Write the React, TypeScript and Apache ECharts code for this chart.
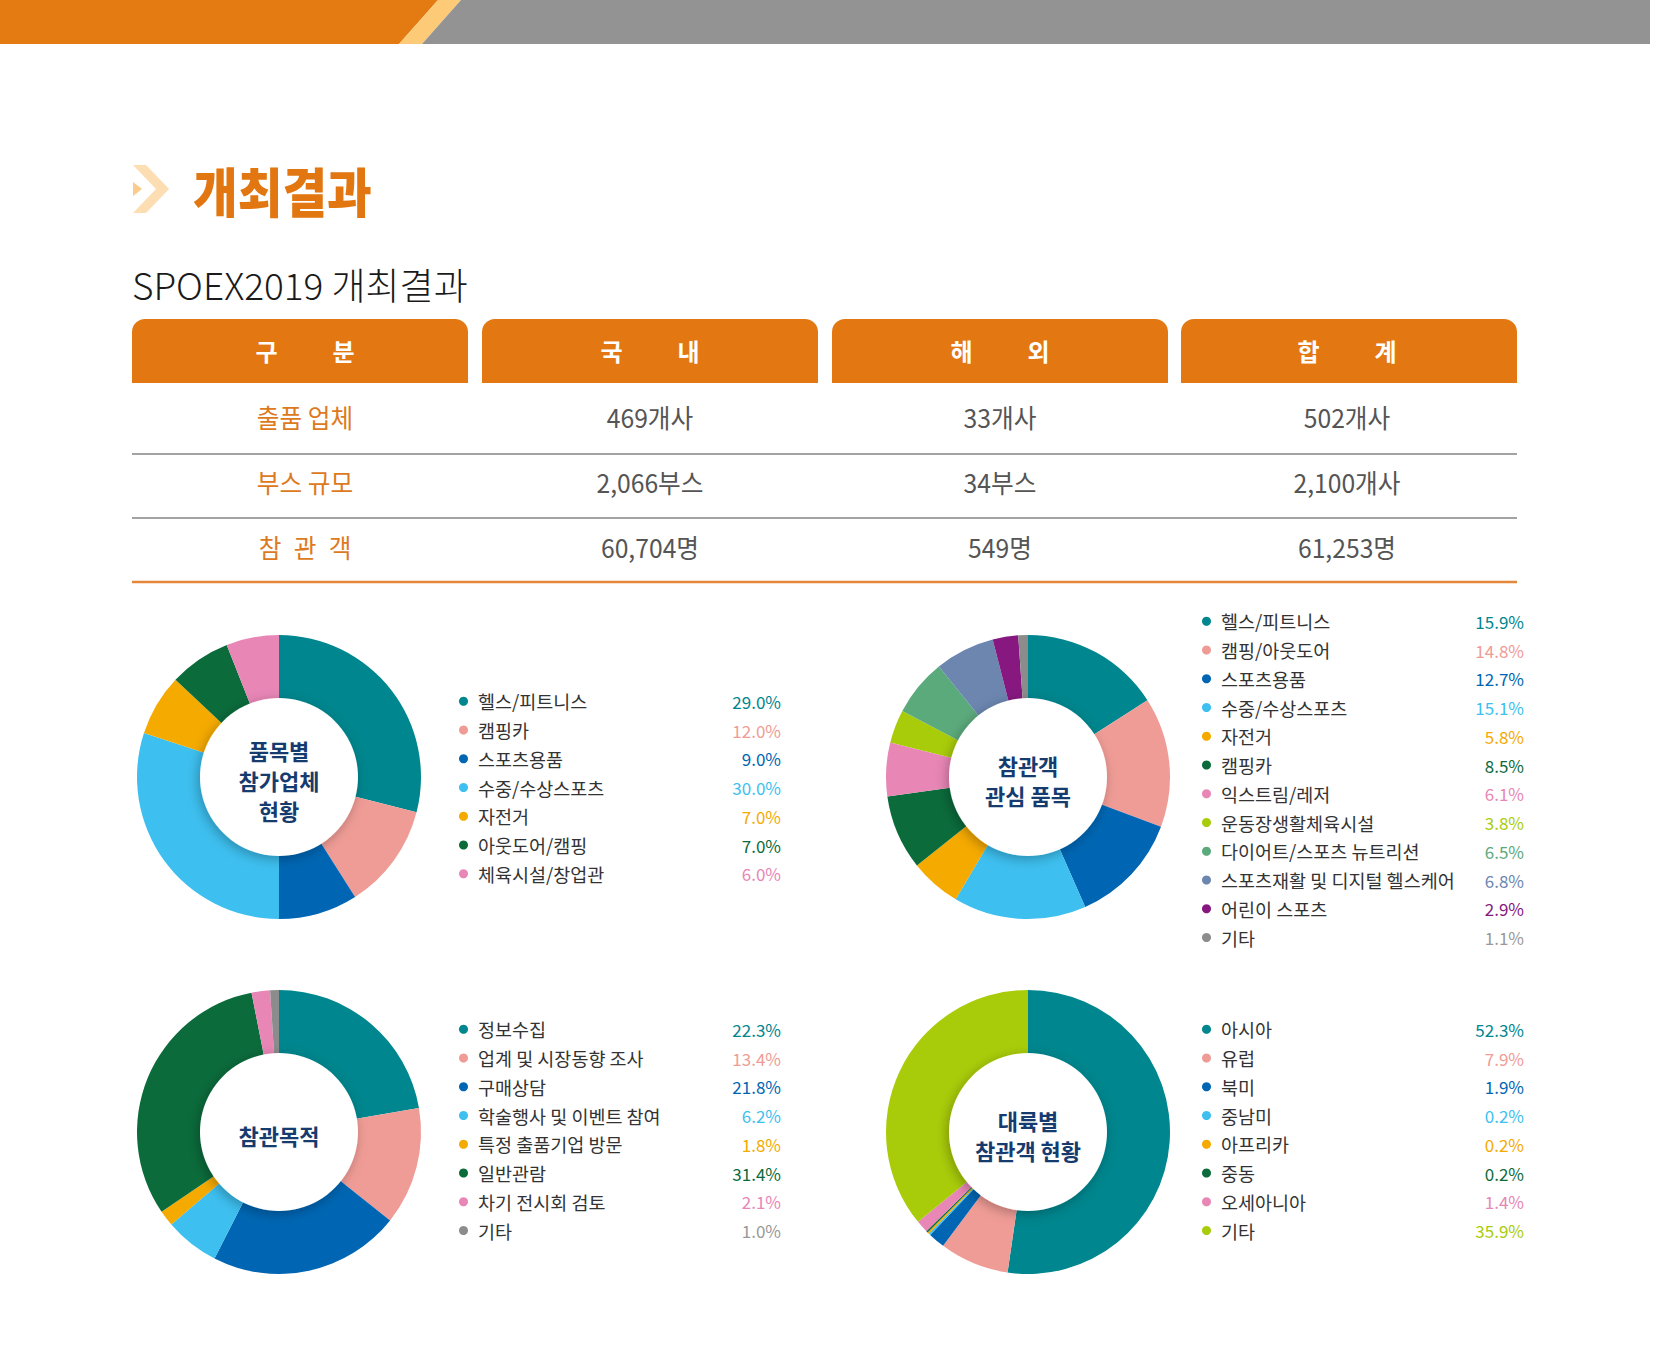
import React, { useEffect, useRef } from "react";
import * as echarts from "echarts";

const PAGE_W = 1654;
const PAGE_H = 1349;
const FONT = '"Noto Sans CJK KR", "Noto Sans", sans-serif';

// ---------- text / data ----------
const headingText = "개최결과";
const subtitleText = "SPOEX2019 개최결과";

const tableHeaders = ["구분", "국내", "해외", "합계"];
const rowLabels = ["출품 업체", "부스 규모", "참 관 객"];
const domesticValues = ["469개사", "2,066부스", "60,704명"];
const overseasValues = ["33개사", "34부스", "549명"];
const totalValues = ["502개사", "2,100개사", "61,253명"];

const chart1Title = "품목별\n참가업체\n현황";
const chart1Names = ["헬스/피트니스", "캠핑카", "스포츠용품", "수중/수상스포츠", "자전거", "아웃도어/캠핑", "체육시설/창업관"];
const chart1Values = [29.0, 12.0, 9.0, 30.0, 7.0, 7.0, 6.0];

const chart2Title = "참관객\n관심 품목";
const chart2Names = ["헬스/피트니스", "캠핑/아웃도어", "스포츠용품", "수중/수상스포츠", "자전거", "캠핑카", "익스트림/레저", "운동장생활체육시설", "다이어트/스포츠 뉴트리션", "스포츠재활 및 디지털 헬스케어", "어린이 스포츠", "기타"];
const chart2Values = [15.9, 14.8, 12.7, 15.1, 5.8, 8.5, 6.1, 3.8, 6.5, 6.8, 2.9, 1.1];

const chart3Title = "참관목적";
const chart3Names = ["정보수집", "업계 및 시장동향 조사", "구매상담", "학술행사 및 이벤트 참여", "특정 출품기업 방문", "일반관람", "차기 전시회 검토", "기타"];
const chart3Values = [22.3, 13.4, 21.8, 6.2, 1.8, 31.4, 2.1, 1.0];

const chart4Title = "대륙별\n참관객 현황";
const chart4Names = ["아시아", "유럽", "북미", "중남미", "아프리카", "중동", "오세아니아", "기타"];
const chart4Values = [52.3, 7.9, 1.9, 0.2, 0.2, 0.2, 1.4, 35.9];

// ---------- colours ----------
const TEAL = "#00868E";
const SALMON = "#F09C96";
const BLUE = "#0066B3";
const SKY = "#3DBFEF";
const AMBER = "#F5AA00";
const GREEN = "#0B6B3B";
const PINK = "#E886B6";
const LIME = "#A9CC0A";
const SEA = "#5BAA7C";
const SLATE = "#6C86B0";
const PURPLE = "#86187F";
const GRAY = "#8C8C8C";

const chart1Colors = [TEAL, SALMON, BLUE, SKY, AMBER, GREEN, PINK];
const chart2Colors = [TEAL, SALMON, BLUE, SKY, AMBER, GREEN, PINK, LIME, SEA, SLATE, PURPLE, GRAY];
const chart3Colors = [TEAL, SALMON, BLUE, SKY, AMBER, GREEN, PINK, GRAY];
const chart4Colors = [TEAL, SALMON, BLUE, SKY, AMBER, GREEN, PINK, LIME];

const ORANGE = "#E37812";
const NAVY = "#163B6F";

type ChartDef = {
  title: string;
  names: string[];
  values: number[];
  colors: string[];
  cx: number;
  cy: number;
  legendLeft: number;
  legendTop: number;
};

const charts: ChartDef[] = [
  { title: chart1Title, names: chart1Names, values: chart1Values, colors: chart1Colors, cx: 279, cy: 777, legendLeft: 459, legendTop: 692 },
  { title: chart2Title, names: chart2Names, values: chart2Values, colors: chart2Colors, cx: 1028, cy: 777, legendLeft: 1202, legendTop: 612 },
  { title: chart3Title, names: chart3Names, values: chart3Values, colors: chart3Colors, cx: 279, cy: 1132, legendLeft: 459, legendTop: 1020 },
  { title: chart4Title, names: chart4Names, values: chart4Values, colors: chart4Colors, cx: 1028, cy: 1132, legendLeft: 1202, legendTop: 1020 },
];

const OUTER_R = 142;
const INNER_R = 79;

function buildOption() {
  const graphic: any[] = [];

  // top bar
  graphic.push({ type: "polygon", shape: { points: [[0, 0], [438, 0], [399, 44], [0, 44]] }, style: { fill: "#E37A12" }, silent: true });
  graphic.push({ type: "polygon", shape: { points: [[438, 0], [461, 0], [422, 44], [399, 44]] }, style: { fill: "#FDCB78" }, silent: true });
  graphic.push({ type: "polygon", shape: { points: [[461, 0], [1650, 0], [1650, 44], [422, 44]] }, style: { fill: "#939393" }, silent: true });

  // chevron
  graphic.push({
    type: "polygon",
    shape: { points: [[133, 165], [146, 165], [169, 189], [146, 213], [133, 213], [156, 189]] },
    style: { fill: "#FDDDB2" },
    silent: true,
  });
  graphic.push({ type: "polygon", shape: { points: [[133, 182], [142, 189], [133, 196]] }, style: { fill: "#FBCB8C" }, silent: true });

  // heading
  graphic.push({
    type: "text", x: 193, y: 189, scaleX: 0.9,
    style: { text: headingText, fill: "#E27711", font: `900 54px ${FONT}`, textAlign: "left", textVerticalAlign: "middle" },
    silent: true,
  });
  // subtitle
  graphic.push({
    type: "text", x: 132, y: 284, scaleX: 1.0,
    style: { text: subtitleText, fill: "#1A1A1A", font: `300 37px ${FONT}`, textAlign: "left", textVerticalAlign: "middle" },
    silent: true,
  });

  // table
  const colX = [132, 482, 832, 1181];
  const colW = 336;
  const colCenters = [305, 650, 1000, 1347];
  tableHeaders.forEach((h, i) => {
    graphic.push({ type: "rect", shape: { x: colX[i], y: 319, width: colW, height: 64, r: [13, 13, 0, 0] }, style: { fill: ORANGE }, silent: true });
    const chars = Array.from(h);
    chars.forEach((ch, k) => {
      const off = (k - (chars.length - 1) / 2) * 77;
      graphic.push({
        type: "text", x: colCenters[i] + off, y: 350,
        style: { text: ch, fill: "#FFFFFF", font: `bold 24px ${FONT}`, textAlign: "center", textVerticalAlign: "middle" },
        silent: true,
      });
    });
  });
  const rowY = [417, 482, 547];
  const cols = [rowLabels, domesticValues, overseasValues, totalValues];
  cols.forEach((col, ci) => {
    col.forEach((t, ri) => {
      const words = t.split(" ");
      const spread = ci === 0 && words.length > 1 && words.every((w) => w.length === 1);
      const baseStyle = { fill: ci === 0 ? "#DD7A1E" : "#555555", font: `26px ${FONT}`, textAlign: "center", textVerticalAlign: "middle" };
      if (spread) {
        words.forEach((w, k) => {
          graphic.push({
            type: "text", x: colCenters[ci] + (k - (words.length - 1) / 2) * 35, y: rowY[ri], scaleX: 0.95,
            style: { ...baseStyle, text: w },
            silent: true,
          });
        });
      } else {
        graphic.push({
          type: "text", x: colCenters[ci], y: rowY[ri], scaleX: 0.95,
          style: { ...baseStyle, text: t },
          silent: true,
        });
      }
    });
  });
  [454, 518].forEach((y) => {
    graphic.push({ type: "line", shape: { x1: 132, y1: y, x2: 1517, y2: y }, style: { stroke: "#A3A3A3", lineWidth: 2 }, silent: true });
  });
  graphic.push({ type: "line", shape: { x1: 132, y1: 582, x2: 1517, y2: 582 }, style: { stroke: "#E5873A", lineWidth: 2.5 }, silent: true });

  // donut centres
  charts.forEach((c) => {
    graphic.push({
      type: "circle", z: 10,
      shape: { cx: c.cx, cy: c.cy, r: INNER_R },
      style: { fill: "#FFFFFF", shadowBlur: 12, shadowColor: "rgba(0,0,0,0.28)", shadowOffsetX: -2, shadowOffsetY: 3 },
      silent: true,
    });
    graphic.push({
      type: "text", z: 11, x: c.cx, y: c.cy + 3,
      style: { text: c.title, fill: NAVY, font: `bold 22px ${FONT}`, lineHeight: 30, textAlign: "center", textVerticalAlign: "middle" },
      silent: true,
    });
  });

  const series = charts.map((c) => ({
    type: "pie",
    center: [c.cx, c.cy],
    radius: [INNER_R - 2, OUTER_R],
    startAngle: 90,
    clockwise: true,
    silent: true,
    label: { show: false },
    labelLine: { show: false },
    emphasis: { disabled: true },
    data: c.names.map((n, i) => ({ name: n, value: c.values[i], itemStyle: { color: c.colors[i] } })),
  }));

  const legend = charts.map((c) => {
    const rich: any = {
      n: { fontFamily: FONT, fontSize: 18.5, color: "#333333", width: 247, lineHeight: 20, padding: [0, 0, 0, 5] },
    };
    c.colors.forEach((col, i) => {
      rich["p" + i] = { fontFamily: FONT, fontSize: 17, color: col === GRAY ? "#999999" : col, width: 56, align: "right", lineHeight: 20 };
    });
    return {
      orient: "vertical",
      left: c.legendLeft,
      top: c.legendTop,
      padding: 0,
      itemGap: 10.25,
      itemWidth: 9,
      itemHeight: 9,
      icon: "circle",
      selectedMode: false,
      data: c.names.map((n, i) => ({ name: n, itemStyle: { color: c.colors[i] } })),
      formatter: (name: string) => {
        const i = c.names.indexOf(name);
        return `{n|${name}}{p${i}|${c.values[i].toFixed(1)}%}`;
      },
      textStyle: { rich },
    };
  });

  return {
    animation: false,
    backgroundColor: "#FFFFFF",
    textStyle: { fontFamily: FONT },
    graphic,
    legend,
    series,
  };
}

export default function App() {
  const ref = useRef<HTMLDivElement>(null);
  useEffect(() => {
    document.body.style.margin = "0";
    if (!ref.current) return;
    const chart = echarts.init(ref.current, undefined, { renderer: "svg" });
    chart.setOption(buildOption() as any);
    return () => chart.dispose();
  }, []);
  return <div ref={ref} style={{ width: PAGE_W, height: PAGE_H }} />;
}
